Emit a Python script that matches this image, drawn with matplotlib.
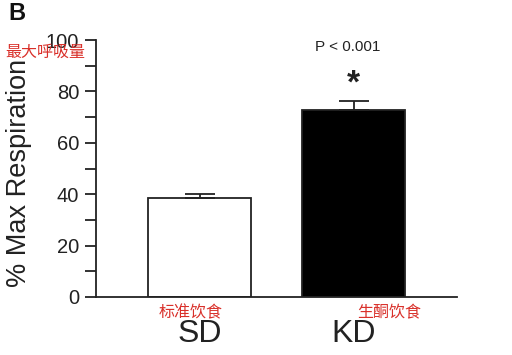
import matplotlib
matplotlib.use("Agg")
import matplotlib.pyplot as plt

plt.rcParams['font.family'] = ['Liberation Sans', 'Noto Sans CJK SC', 'DejaVu Sans']

categories = ["SD", "KD"]
cn_labels = ["标准饮食", "生酮饮食"]
values = [38.5, 72.8]
errors = [1.5, 3.5]
bar_colors = ["white", "black"]
yticks = [0, 20, 40, 60, 80, 100]
minor_yticks = [10, 30, 50, 70, 90]

fig = plt.figure(figsize=(5.12, 3.55), dpi=100)
ax = fig.add_axes([0.1875, 0.1634, 0.7055, 0.7236])
x = list(range(len(categories)))
ax.bar(x, values, width=0.67, color=bar_colors, edgecolor="#222222", linewidth=1.3, zorder=2)
ax.errorbar(x, values, yerr=[[0, 0], errors], fmt="none", ecolor="#222222",
            elinewidth=1.3, capsize=11, capthick=1.3, zorder=3)
ax.set_xlim(-0.672, 1.672)
ax.set_ylim(0, 100)
ax.set_yticks(yticks)
ax.set_yticks(minor_yticks, minor=True)
ax.set_yticklabels([str(t) for t in yticks], fontsize=14.5, color="#222222")
ax.tick_params(axis='y', which='major', length=8, width=1.3, color="#222222", pad=4)
ax.tick_params(axis='y', which='minor', length=8, width=1.3, color="#222222")
ax.set_xticks([])
for s in ["top", "right"]:
    ax.spines[s].set_visible(False)
for s in ["left", "bottom"]:
    ax.spines[s].set_linewidth(1.3)
    ax.spines[s].set_color("#222222")
ax.spines["left"].set_bounds(0, 100)

ax.set_ylabel("% Max Respiration", fontsize=19.5, color="#222222")
ax.yaxis.set_label_coords(-0.177, 0.482)

for xi, cat in zip(x, categories):
    ax.text(xi, -17.6, cat, ha="center", va="baseline",
            fontsize=23, color="#222222", clip_on=False)
cn_pos = [-0.06, 1.23]
for xp, cn in zip(cn_pos, cn_labels):
    ax.text(xp, -6.2, cn, ha="center", va="center", fontsize=11.5,
            color="#d9302a", family=["Noto Sans CJK SC", "DejaVu Sans"], clip_on=False)

ax.text(0.96, 97.5, "P < 0.001", ha="center", va="center", fontsize=11, color="#222222")
ax.text(1, 83, "*", ha="center", va="center", fontsize=24, fontweight="bold", color="#222222")

fig.text(0.016, 0.963, "B", fontsize=17, fontweight="bold", ha="left", va="center", color="#111111")
fig.text(0.01, 0.853, "最大呼吸量", fontsize=11.5, color="#d9302a", ha="left", va="center",
         family=["Noto Sans CJK SC", "DejaVu Sans"])

fig.savefig("out.png", dpi=100, facecolor="white")
